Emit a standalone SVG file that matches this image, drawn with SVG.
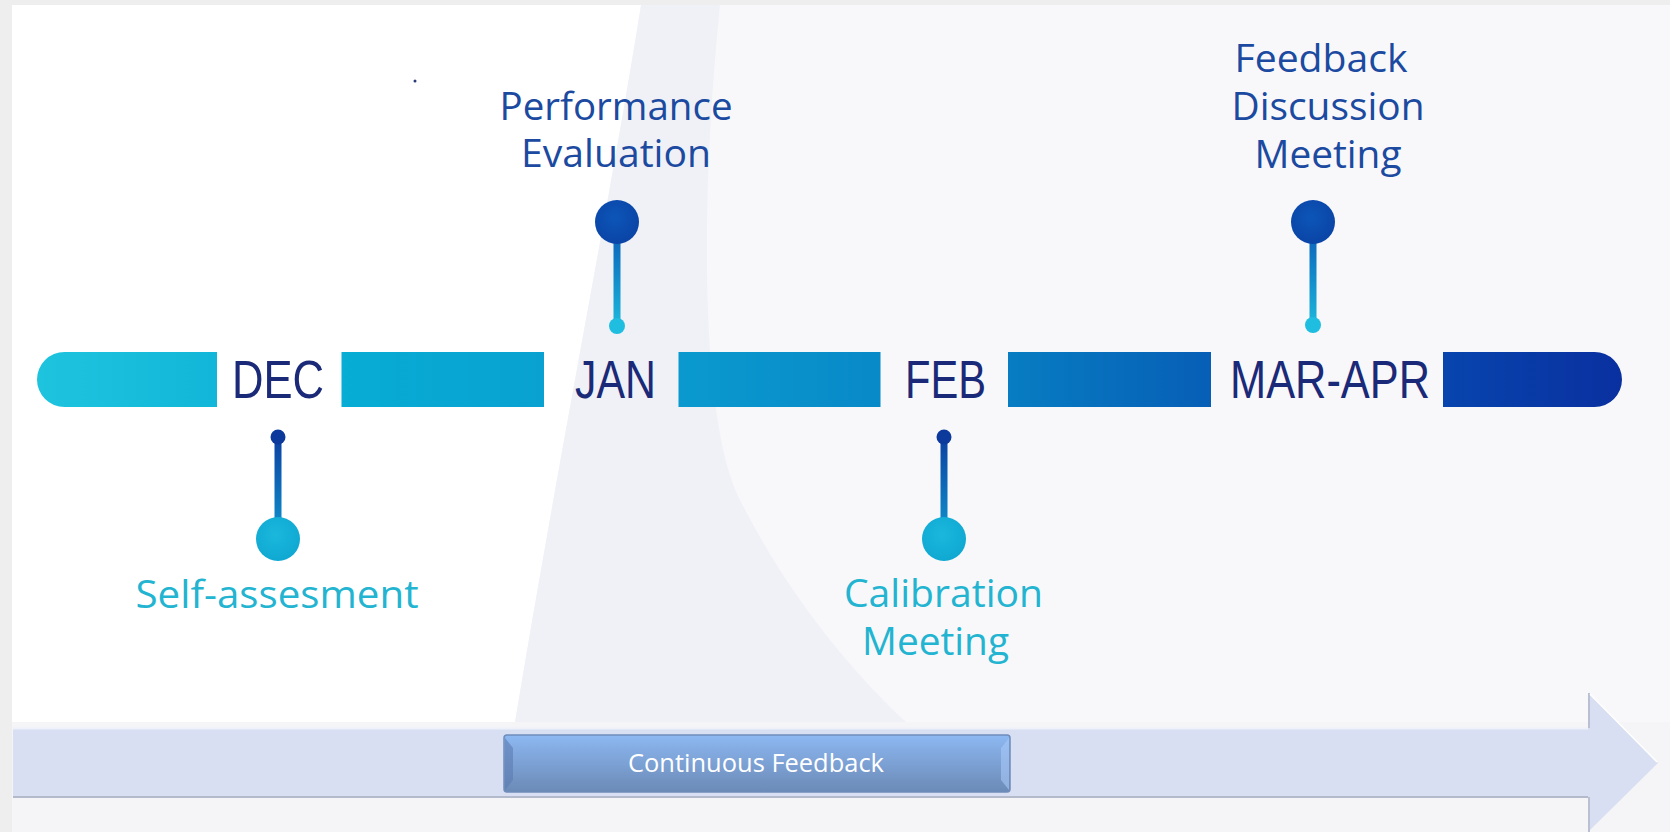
<svg xmlns="http://www.w3.org/2000/svg" width="1670" height="832" viewBox="0 0 1670 832">
<defs>
<linearGradient id="barG" gradientUnits="userSpaceOnUse" x1="37" y1="0" x2="1622" y2="0">
<stop offset="0" stop-color="#1ec4de"/>
<stop offset="0.2" stop-color="#07acd4"/>
<stop offset="0.42" stop-color="#0a98ce"/>
<stop offset="0.6" stop-color="#0780c4"/>
<stop offset="0.75" stop-color="#075cb5"/>
<stop offset="0.88" stop-color="#0746ae"/>
<stop offset="1" stop-color="#0a30a0"/>
</linearGradient>
<linearGradient id="stemUp" x1="0" y1="0" x2="0" y2="1">
<stop offset="0" stop-color="#0a58b6"/>
<stop offset="1" stop-color="#1cb8dc"/>
</linearGradient>
<linearGradient id="stemDown" x1="0" y1="0" x2="0" y2="1">
<stop offset="0" stop-color="#0b40a2"/>
<stop offset="1" stop-color="#1096cf"/>
</linearGradient>
<radialGradient id="darkC" cx="0.45" cy="0.4" r="0.6">
<stop offset="0" stop-color="#0c56b8"/>
<stop offset="1" stop-color="#0a44a6"/>
</radialGradient>
<radialGradient id="cyanC" cx="0.45" cy="0.4" r="0.6">
<stop offset="0" stop-color="#1bb8dc"/>
<stop offset="1" stop-color="#0fa8d2"/>
</radialGradient>
<linearGradient id="boxG" x1="0" y1="0" x2="0" y2="1">
<stop offset="0" stop-color="#8db8f2"/>
<stop offset="1" stop-color="#6b8ab6"/>
</linearGradient>
<style>
.seg{fill:url(#barG);}
.month{font-family:"Liberation Sans",Arial,sans-serif;font-size:53px;fill:#1b2a78;text-anchor:middle;}
.lblTop{font-family:"Open Sans","DejaVu Sans",sans-serif;font-size:38px;font-weight:500;fill:#1b4aa0;text-anchor:middle;}
.lblBot{font-family:"Open Sans","DejaVu Sans",sans-serif;font-size:38px;font-weight:500;fill:#22b4d0;text-anchor:middle;}
.cf{font-family:"Open Sans","Liberation Sans",sans-serif;font-size:26px;fill:#ffffff;text-anchor:middle;}
</style>
</defs>

<!-- background -->
<rect x="0" y="0" width="1670" height="832" fill="#eeeeee"/>
<rect x="12" y="5" width="1658" height="827" fill="#f8f8fb"/>
<path d="M12 5 H641 C610 200 560 450 515 722 H12 Z" fill="#ffffff"/>
<path d="M641 5 H720 C700 200 700 420 740 500 C790 600 860 680 906 722 H515 C560 450 610 200 641 5 Z" fill="#eff1f6"/>
<rect x="12" y="722" width="1658" height="110" fill="#f5f5f7"/>
<circle cx="415" cy="81" r="1.5" fill="#2a3a7a"/>

<!-- timeline bar -->
<g id="bar">
<path class="seg" d="M64.5 352 H217 V407 H64.5 A27.5 27.5 0 0 1 64.5 352 Z"/>
<rect class="seg" x="341.5" y="352" width="202.5" height="55"/>
<rect class="seg" x="678.5" y="352" width="202" height="55"/>
<rect class="seg" x="1008" y="352" width="203" height="55"/>
<path class="seg" d="M1443 352 H1594.5 A27.5 27.5 0 0 1 1594.5 407 H1443 Z"/>
</g>

<g id="dec"><text class="month" x="278" y="398" textLength="92" lengthAdjust="spacingAndGlyphs">DEC</text></g>
<g id="jan"><text class="month" x="615.5" y="398" textLength="81" lengthAdjust="spacingAndGlyphs">JAN</text></g>
<g id="feb"><text class="month" x="945.5" y="398" textLength="81" lengthAdjust="spacingAndGlyphs">FEB</text></g>
<g id="marapr"><text class="month" x="1330" y="398" textLength="200" lengthAdjust="spacingAndGlyphs">MAR-APR</text></g>

<!-- pins (connectors) -->
<g id="connectors">
<g id="pin-perf">
<rect x="613.5" y="222" width="7" height="104" fill="url(#stemUp)"/>
<circle cx="617" cy="222" r="22" fill="url(#darkC)"/>
<circle cx="617" cy="326" r="8" fill="#1fbde0"/>
</g>
<g id="pin-feedback">
<rect x="1309.5" y="222" width="7" height="103" fill="url(#stemUp)"/>
<circle cx="1313" cy="222" r="22" fill="url(#darkC)"/>
<circle cx="1313" cy="325" r="8" fill="#1fbde0"/>
</g>
<g id="pin-self">
<rect x="274.5" y="437" width="7" height="102" fill="url(#stemDown)"/>
<circle cx="278" cy="437" r="7.5" fill="#0b3a9c"/>
<circle cx="278" cy="539" r="22" fill="url(#cyanC)"/>
</g>
<g id="pin-calib">
<rect x="940.5" y="437" width="7" height="102" fill="url(#stemDown)"/>
<circle cx="944" cy="437" r="7.5" fill="#0b3a9c"/>
<circle cx="944" cy="539" r="22" fill="url(#cyanC)"/>
</g>
</g>

<g id="label-perf">
<text class="lblTop" x="616" y="120" textLength="233" lengthAdjust="spacingAndGlyphs">Performance</text>
<text class="lblTop" x="616" y="167" textLength="190" lengthAdjust="spacingAndGlyphs">Evaluation</text>
</g>
<g id="label-feedback">
<text class="lblTop" x="1321" y="72" textLength="173" lengthAdjust="spacingAndGlyphs">Feedback</text>
<text class="lblTop" x="1328" y="120" textLength="193" lengthAdjust="spacingAndGlyphs">Discussion</text>
<text class="lblTop" x="1328" y="168" textLength="147" lengthAdjust="spacingAndGlyphs">Meeting</text>
</g>
<g id="label-self">
<text class="lblBot" x="277" y="608" textLength="283" lengthAdjust="spacingAndGlyphs">Self-assesment</text>
</g>
<g id="label-calib">
<text class="lblBot" x="943.5" y="607" textLength="199" lengthAdjust="spacingAndGlyphs">Calibration</text>
<text class="lblBot" x="935.5" y="655" textLength="147" lengthAdjust="spacingAndGlyphs">Meeting</text>
</g>

<!-- bottom arrow -->
<g id="arrow">
<polygon points="13,728 1588,728 1588,693 1658,763 1588,832 1588,797 13,797" fill="#d9dff2"/>
<line x1="13" y1="728.5" x2="1588" y2="728.5" stroke="#eef1fa" stroke-width="2"/>
<line x1="13" y1="797" x2="1588" y2="797" stroke="#b3bacb" stroke-width="2"/>
<line x1="1589" y1="693" x2="1589" y2="728" stroke="#b9c0d2" stroke-width="2"/>
<line x1="1589" y1="797" x2="1589" y2="832" stroke="#b9c0d2" stroke-width="2"/>
<line x1="1590" y1="694" x2="1657" y2="762" stroke="#ffffff" stroke-width="1.5"/>
</g>

<g id="continuous">
<rect x="504" y="735" width="506" height="57" rx="3" fill="url(#boxG)" stroke="#6f8cbb" stroke-width="1.5"/>
<polygon points="505,738 513,748 513,780 505,790" fill="#5b7bb0" opacity="0.6"/>
<polygon points="1009,738 1001,748 1001,780 1009,790" fill="#a9c8f6" opacity="0.6"/>
<text class="cf" x="756" y="772" textLength="256" lengthAdjust="spacingAndGlyphs">Continuous Feedback</text>
</g>
</svg>
